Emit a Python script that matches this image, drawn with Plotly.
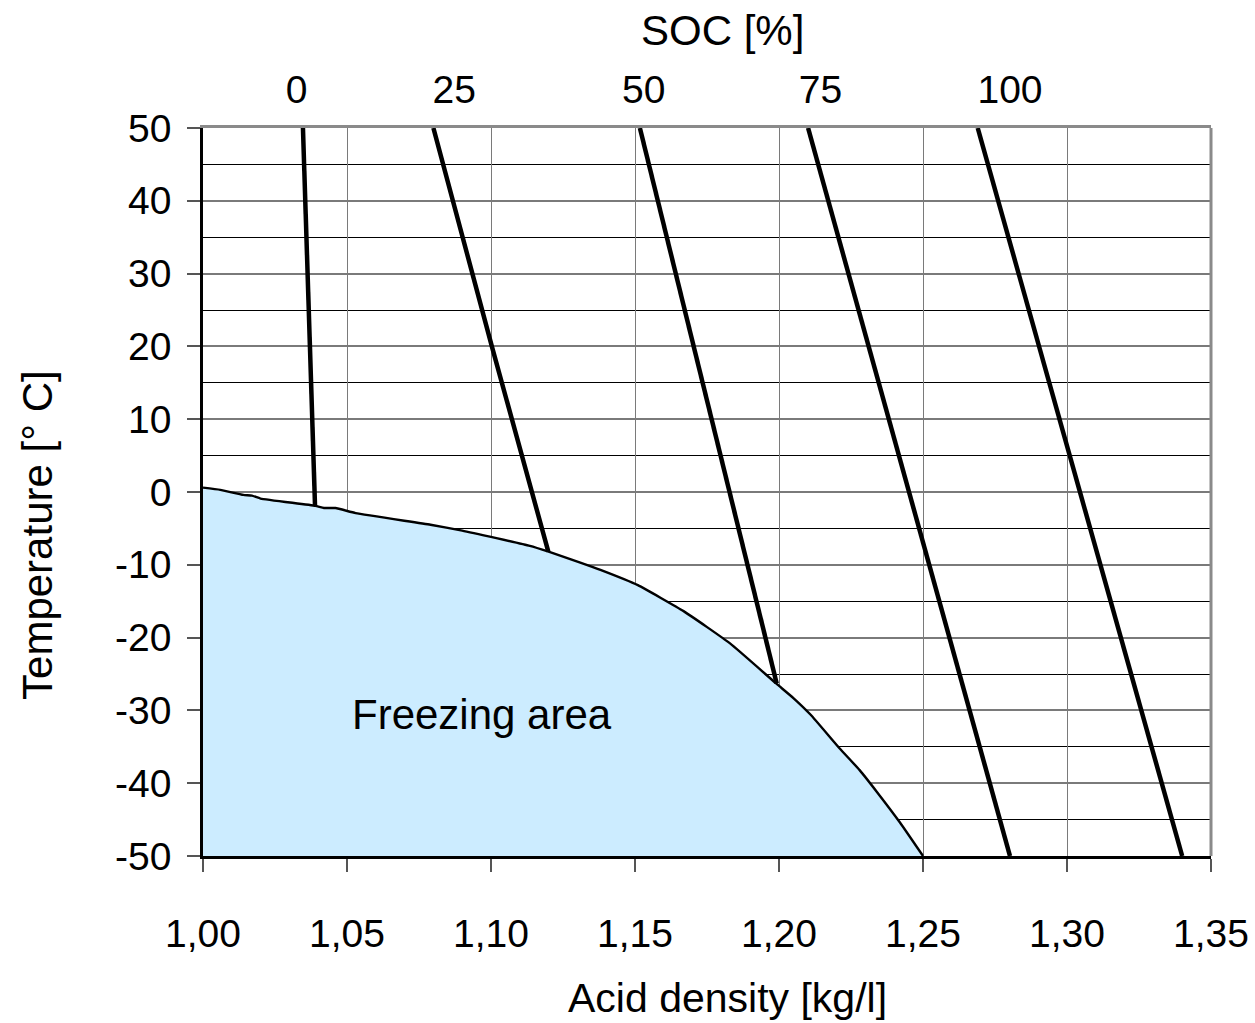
import plotly.graph_objects as go

# ---- data ----
freeze_density = [1.000, 1.006, 1.014, 1.017, 1.020, 1.039, 1.042, 1.046, 1.053, 1.079, 1.090,
                  1.1135, 1.120, 1.131, 1.138, 1.151, 1.167, 1.183, 1.199, 1.205, 1.211,
                  1.221, 1.228, 1.234, 1.242, 1.250]
freeze_temp = [0.6, 0.3, -0.4, -0.5, -0.9, -1.9, -2.2, -2.2, -2.9, -4.5, -5.3,
               -7.4, -8.2, -9.7, -10.7, -12.8, -16.4, -20.8, -26.3, -28.3, -30.6,
               -35.2, -38.2, -41.2, -45.4, -50.0]

soc0_density = [1.0347, 1.0389]
soc0_temp = [50, -1.9]
soc25_density = [1.0800, 1.1003, 1.1199]
soc25_temp = [50, 20, -8.2]
soc50_density = [1.1517, 1.1992]
soc50_temp = [50, -26.3]
soc75_density = [1.2101, 1.2802]
soc75_temp = [50, -50]
soc100_density = [1.2690, 1.3400]
soc100_temp = [50, -50]

soc_tick_labels = ["0", "25", "50", "75", "100"]
soc_tick_density = [1.0325, 1.0872, 1.1530, 1.2144, 1.2802]

temp_tick_values = [-50, -40, -30, -20, -10, 0, 10, 20, 30, 40, 50]
temp_tick_labels = ["-50", "-40", "-30", "-20", "-10", "0", "10", "20", "30", "40", "50"]

FONT = "Liberation Sans, Arial, sans-serif"

fig = go.Figure()

# freezing area fill
fig.add_trace(go.Scatter(
    x=freeze_density + [1.25, 1.0],
    y=freeze_temp + [-50, -50],
    mode="lines", fill="toself", fillcolor="#CCECFF",
    line=dict(color="rgba(0,0,0,0)", width=0),
    hoverinfo="skip", showlegend=False))
# freezing curve
fig.add_trace(go.Scatter(
    x=freeze_density, y=freeze_temp, mode="lines",
    line=dict(color="black", width=2.4, shape="spline", smoothing=0.4), showlegend=False))

for xs, ys in [(soc0_density, soc0_temp), (soc25_density, soc25_temp),
               (soc50_density, soc50_temp), (soc75_density, soc75_temp),
               (soc100_density, soc100_temp)]:
    fig.add_trace(go.Scatter(x=xs, y=ys, mode="lines",
                             line=dict(color="black", width=4.5),
                             showlegend=False, cliponaxis=True))

# invisible trace on top axis
fig.add_trace(go.Scatter(x=[1.0, 1.35], y=[0, 0], xaxis="x2", mode="markers",
                         marker=dict(opacity=0), hoverinfo="skip", showlegend=False))

fig.update_layout(
    template="none",
    width=1255, height=1023,
    margin=dict(l=203, r=44, t=128, b=167, autoexpand=False),
    paper_bgcolor="white", plot_bgcolor="white",
    separators=", ",
    font=dict(family=FONT, size=39, color="black"),
    xaxis=dict(range=[1.0, 1.35], tick0=1.0, dtick=0.05, tickformat=".2f",
               automargin=False, ticklabeloverflow="allow",
               showgrid=True, gridcolor="#7a7a7a", gridwidth=1.3,
               zeroline=False, showline=True, linecolor="black", linewidth=3,
               ticks="outside", ticklen=13, tickwidth=1.5, tickcolor="#555",
               ticklabelstandoff=28,
               tickfont=dict(family=FONT, size=39, color="black")),
    xaxis2=dict(range=[1.0, 1.35], overlaying="x", side="top",
                automargin=False,
                tickvals=soc_tick_density, ticktext=soc_tick_labels,
                showgrid=False, zeroline=False, ticks="",
                showline=True, linecolor="#8a8a8a", linewidth=3,
                ticklabelstandoff=6,
                tickfont=dict(family=FONT, size=39, color="black")),
    yaxis=dict(range=[-50, 50], tickvals=temp_tick_values, ticktext=temp_tick_labels,
               automargin=False,
               showgrid=True, gridcolor="#7a7a7a", gridwidth=1.6,
               minor=dict(dtick=5, tick0=0, showgrid=True, gridcolor="black", gridwidth=1, ticks=""),
               zeroline=False, showline=True, linecolor="black", linewidth=2.5,
               ticks="outside", ticklen=13, tickwidth=1.5, tickcolor="#555",
               ticklabelstandoff=8,
               tickfont=dict(family=FONT, size=39, color="black")),
    shapes=[dict(type="line", xref="paper", yref="paper", x0=1, x1=1, y0=0, y1=1,
                 line=dict(color="#8a8a8a", width=3))],
    annotations=[
        dict(text="Acid density [kg/l]", xref="paper", yref="paper",
             x=0.5208, y=-0.195, showarrow=False, xanchor="center", yanchor="middle",
             font=dict(family=FONT, size=41, color="black")),
        dict(text="Temperature [° C]", xref="paper", yref="paper",
             x=-0.1637, y=0.441, showarrow=False, xanchor="center", yanchor="middle",
             textangle=-90, font=dict(family=FONT, size=42, color="black")),
        dict(text="SOC [%]", xref="paper", yref="paper",
             x=0.5149, y=1.1346, showarrow=False, xanchor="center", yanchor="middle",
             font=dict(family=FONT, size=42, color="black")),
        dict(text="Freezing area", x=1.0969, y=-30.5, xref="x", yref="y",
             showarrow=False, xanchor="center", yanchor="middle",
             font=dict(family=FONT, size=42, color="black")),
    ],
)

fig.write_html("out.html")
